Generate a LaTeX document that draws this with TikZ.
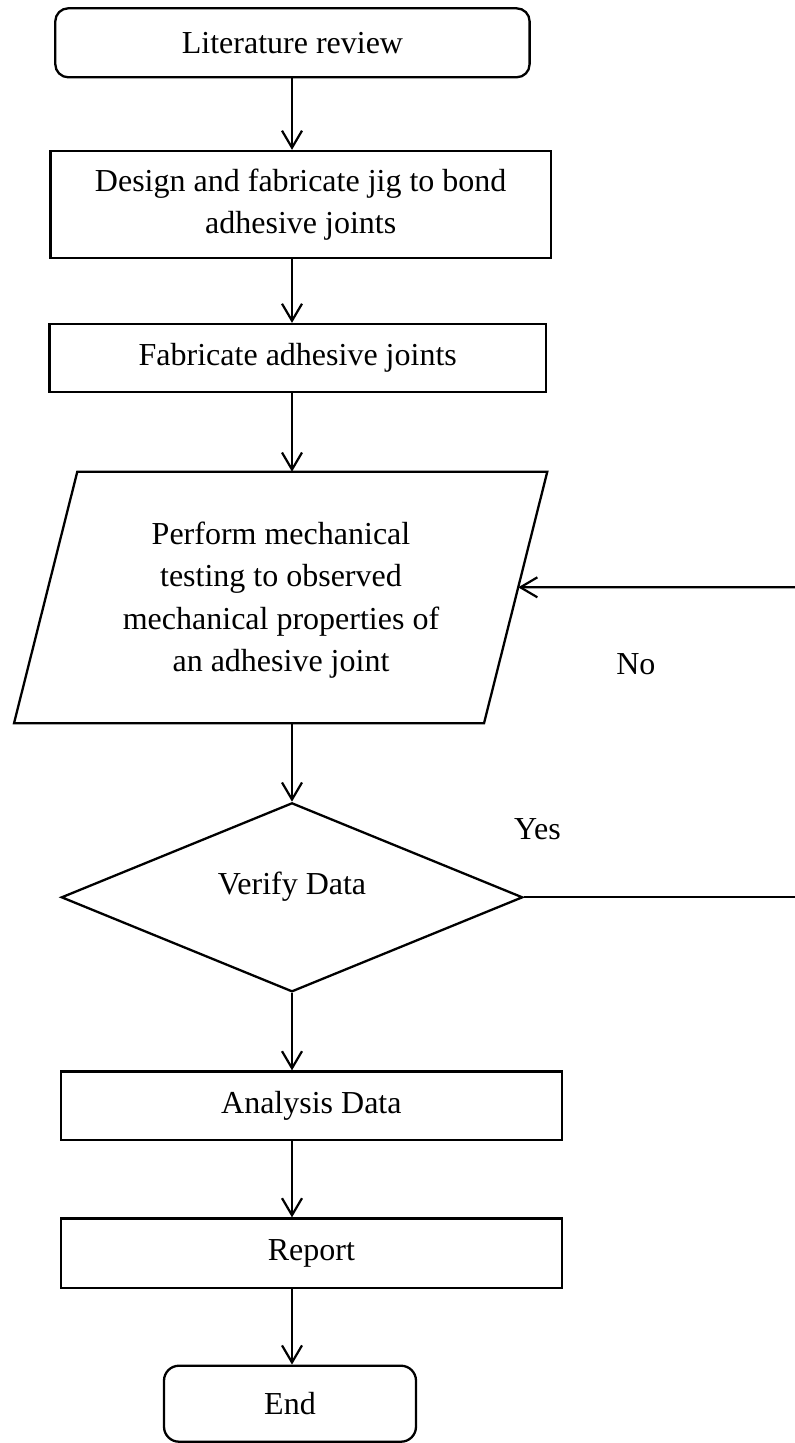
\documentclass[tikz,border=0pt]{standalone}
\usepackage{fontspec}
\setmainfont{Liberation Serif}
\usetikzlibrary{shapes.geometric,arrows.meta,calc}
\begin{document}
\begin{tikzpicture}[x=1pt,y=-1pt,
  every node/.style={font=\fontsize{32pt}{42.3pt}\selectfont},
  box/.style={draw, line width=2.3pt, rectangle, inner sep=0pt},
  rbox/.style={box, rounded corners=13pt},
  conn/.style={line width=2.2pt},
  arr/.style={conn, -{Straight Barb[length=17pt,width=20pt]}}]
\useasboundingbox (0,0) rectangle (795,1443);
\coordinate (axis) at (292,0);
% nodes
\node[rbox, minimum width=474.3pt, minimum height=69pt] (lit) at (292.45,42.8) {Literature review};
\node[box, minimum width=500.2pt, minimum height=107.3pt, align=center] (design) at (300.7,204.65) {Design and fabricate jig to bond\\adhesive joints};
\node[box, minimum width=496.5pt, minimum height=67.7pt] (fab) at (297.75,357.9) {Fabricate adhesive joints};
% parallelogram
\coordinate (ptl) at (77.3,471.7);
\coordinate (ptr) at (547.3,471.7);
\coordinate (pbr) at (484,723.3);
\coordinate (pbl) at (14,723.3);
\draw[line width=2.3pt] (ptl) -- (ptr) -- (pbr) -- (pbl) -- cycle;
\node[align=center] (perf) at (281,600) {Perform mechanical\\testing to observed\\mechanical properties of\\an adhesive joint};
\coordinate (pin) at ($(ptr)!0.4595!(pbr)$);
% decision
\node[draw, line width=2.3pt, diamond, inner sep=0pt, minimum width=461.4pt, minimum height=189pt,
  label={[yshift=10.8pt]center:Verify Data}] (vd) at (292,897.3) {};
\node[box, minimum width=501.3pt, minimum height=68.8pt] (ana) at (311.35,1105.9) {Analysis Data};
\node[box, minimum width=501.3pt, minimum height=69.2pt] (rep) at (311.35,1253.1) {Report};
\node[rbox, minimum width=252pt, minimum height=76pt, rounded corners=15pt] (endn) at (290,1403.7) {End};
% labels
\node (yes) at (537.5,829.5) {Yes};
\node (no) at (635.8,664.5) {No};
% loop ends
\coordinate (yesend) at (795,897.3);
\coordinate (noend) at (795,587.3);
% connectors
\draw[arr] (lit.south -| axis) -- (design.north -| axis);
\draw[arr] (design.south -| axis) -- (fab.north -| axis);
\draw[arr] (fab.south -| axis) -- (ptl -| axis);
\draw[arr] (pbl -| axis) -- (vd.north);
\draw[arr] (vd.south) -- (ana.north -| vd.south);
\draw[arr] (ana.south -| axis) -- (rep.north -| axis);
\draw[arr] (rep.south -| axis) -- (endn.north -| axis);
\draw[conn] (vd.east) -- (yesend);
\draw[arr] (noend) -- (pin);
\end{tikzpicture}
\end{document}
